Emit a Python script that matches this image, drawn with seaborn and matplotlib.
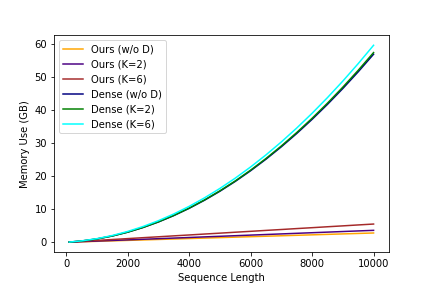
import numpy as np
import pandas as pd
import matplotlib
matplotlib.use("Agg")
import matplotlib.pyplot as plt
import seaborn as sns

seq_len = [100, 500, 1000, 1500, 2000, 2500, 3000, 3500, 4000, 4500, 5000,
           5500, 6000, 6500, 7000, 7500, 8000, 8500, 9000, 9500, 10000]

ours_wo_d = [0.03, 0.14, 0.28, 0.42, 0.56, 0.70, 0.84, 0.98, 1.12, 1.26, 1.40,
             1.54, 1.68, 1.82, 1.96, 2.10, 2.24, 2.38, 2.52, 2.66, 2.80]
ours_k2 = [0.04, 0.18, 0.36, 0.54, 0.72, 0.90, 1.08, 1.26, 1.44, 1.62, 1.80,
           1.98, 2.16, 2.34, 2.52, 2.70, 2.88, 3.06, 3.24, 3.42, 3.60]
ours_k6 = [0.06, 0.28, 0.55, 0.83, 1.10, 1.38, 1.65, 1.93, 2.20, 2.48, 2.75,
           3.03, 3.30, 3.58, 3.85, 4.13, 4.40, 4.68, 4.95, 5.23, 5.50]
dense_wo_d = [0.05, 0.37, 1.00, 1.89, 3.04, 4.45, 6.12, 8.05, 10.24, 12.69, 15.40,
              18.37, 21.60, 25.09, 28.84, 32.85, 37.12, 41.65, 46.44, 51.49, 56.80]
dense_k2 = [0.05, 0.37, 1.01, 1.90, 3.06, 4.48, 6.17, 8.11, 10.32, 12.79, 15.53,
            18.52, 21.78, 25.30, 29.09, 33.13, 37.44, 42.01, 46.85, 51.94, 57.30]
dense_k6 = [0.06, 0.41, 1.09, 2.04, 3.26, 4.75, 6.51, 8.54, 10.84, 13.41, 16.25,
            19.36, 22.74, 26.39, 30.31, 34.50, 38.96, 43.69, 48.69, 53.96, 59.50]

labels = ["Ours (w/o D)", "Ours (K=2)", "Ours (K=6)",
          "Dense (w/o D)", "Dense (K=2)", "Dense (K=6)"]
series = [ours_wo_d, ours_k2, ours_k6, dense_wo_d, dense_k2, dense_k6]
colors = ["orange", "indigo", "brown", "navy", "green", "cyan"]

# long-form table for seaborn
df = pd.concat(
    [pd.DataFrame({"Sequence Length": seq_len, "Memory Use (GB)": vals, "Method": lab})
     for lab, vals in zip(labels, series)],
    ignore_index=True,
)

fig, ax = plt.subplots(figsize=(6, 4), dpi=72)
fig.subplots_adjust(left=0.125, right=0.9, top=0.877, bottom=0.125)

sns.lineplot(
    data=df,
    x="Sequence Length",
    y="Memory Use (GB)",
    hue="Method",
    hue_order=labels,
    palette=dict(zip(labels, colors)),
    ax=ax,
)

ax.legend(loc="upper left", title=None)
ax.set_xlabel("Sequence Length")
ax.set_ylabel("Memory Use (GB)")

plt.savefig("out.png", dpi=72)
